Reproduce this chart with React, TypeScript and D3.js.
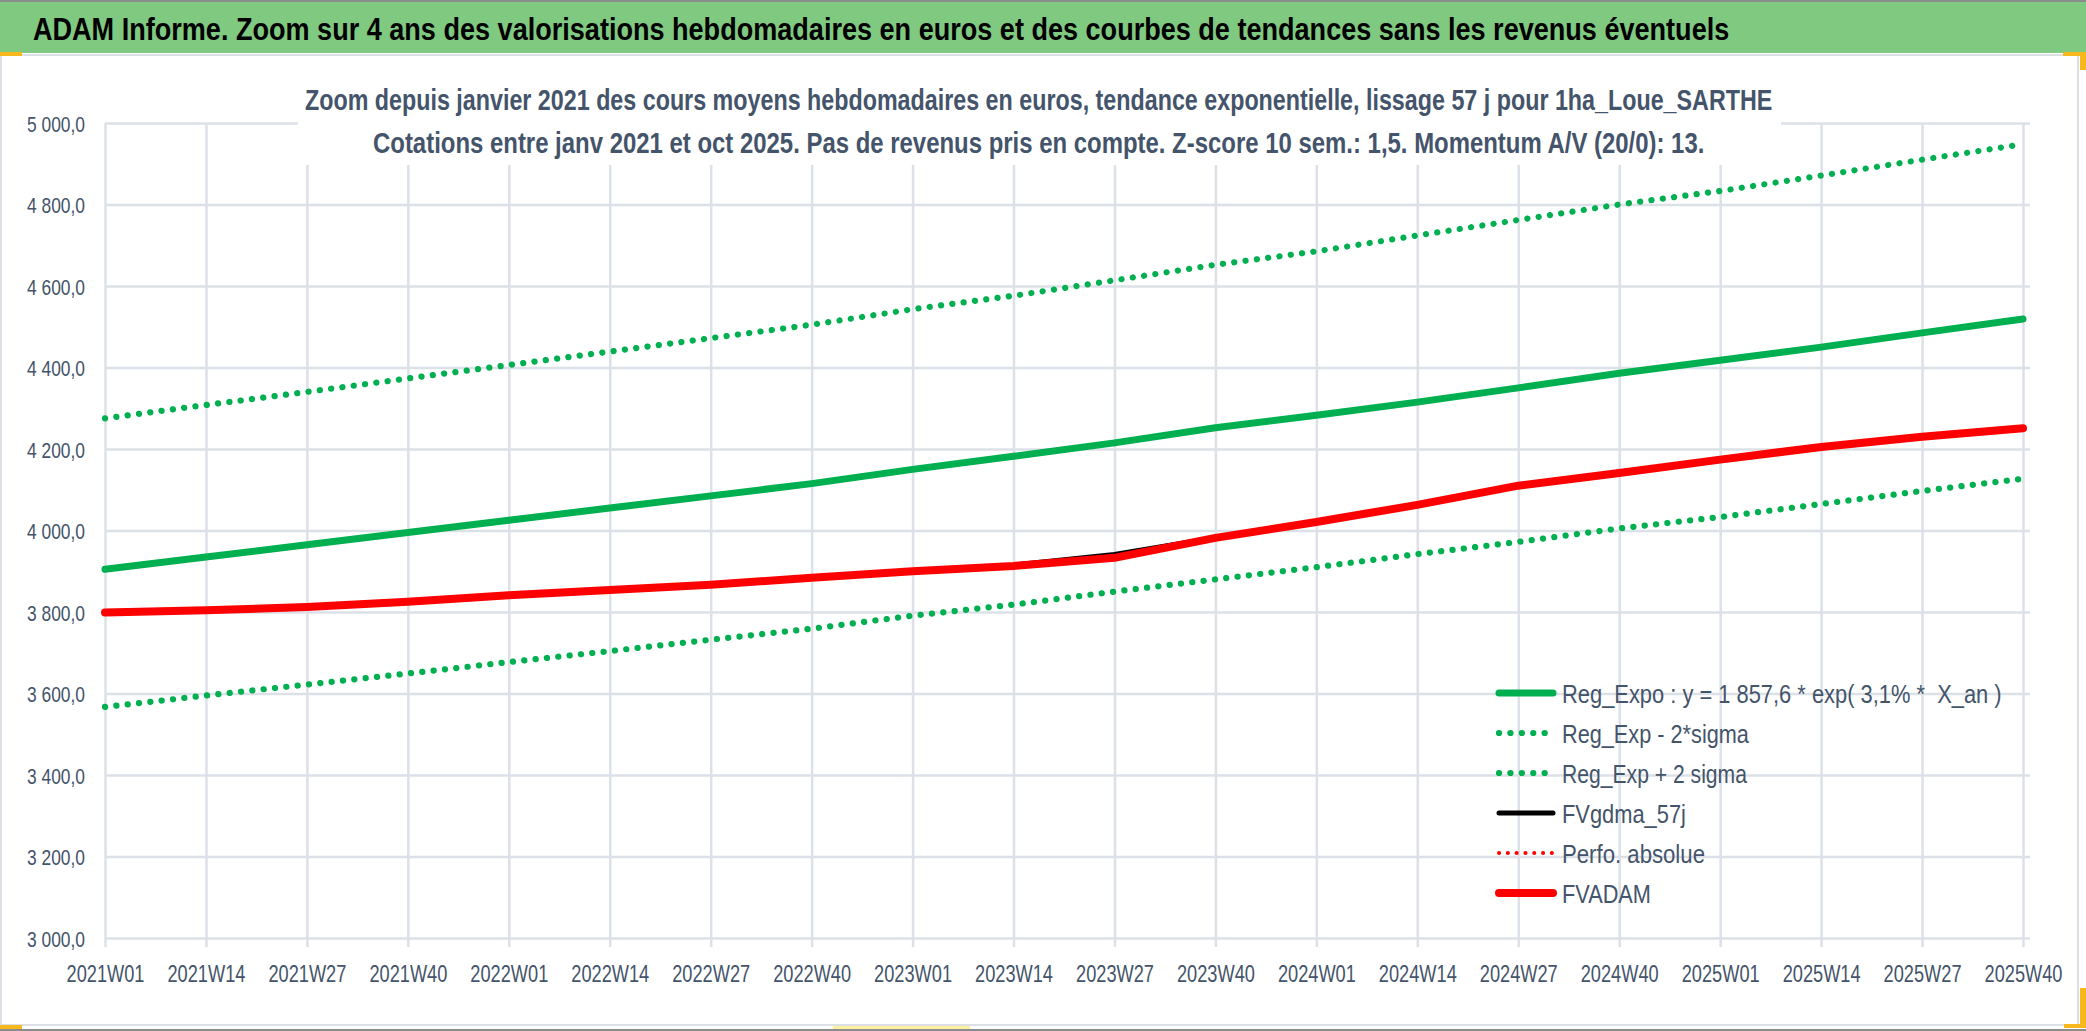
import * as d3 from 'd3'
import { useEffect, useRef } from 'react'

// weekly categories shown on the axis (one every 13 weeks)
const weeks = [
    '2021W01', '2021W14', '2021W27', '2021W40',
    '2022W01', '2022W14', '2022W27', '2022W40',
    '2023W01', '2023W14', '2023W27', '2023W40',
    '2024W01', '2024W14', '2024W27', '2024W40',
    '2025W01', '2025W14', '2025W27', '2025W40',
]

// values, euros
const regExpo = [3905, 3935, 3965, 3995, 4025, 4055, 4085, 4115, 4150, 4182, 4215, 4252, 4283, 4315, 4350, 4386, 4418, 4450, 4485, 4519]
const regMinus = [3567, 3595, 3622, 3649, 3677, 3704, 3732, 3759, 3791, 3818, 3850, 3880, 3910, 3942, 3972, 4005, 4033, 4065, 4097, 4127]
const regPlus = [4275, 4308, 4340, 4373, 4406, 4439, 4472, 4505, 4543, 4576, 4614, 4652, 4685, 4724, 4762, 4800, 4833, 4871, 4910, 4948]
const fvgdma = [3799, 3804, 3812, 3825, 3841, 3854, 3867, 3884, 3900, 3915, 3941, 3982, 4021, 4063, 4110, 4141, 4174, 4205, 4230, 4251]
const fvadam = [3799, 3804, 3812, 3825, 3841, 3854, 3867, 3884, 3900, 3913, 3933, 3982, 4021, 4063, 4110, 4141, 4174, 4205, 4230, 4251]
const perfo: number[] = []

const yTicks = [3000, 3200, 3400, 3600, 3800, 4000, 4200, 4400, 4600, 4800, 5000]

const title = 'ADAM Informe. Zoom sur 4 ans des valorisations hebdomadaires en euros et des courbes de tendances sans les revenus éventuels'
const subtitle1 = 'Zoom depuis janvier 2021 des cours moyens hebdomadaires en euros, tendance exponentielle, lissage 57 j pour 1ha_Loue_SARTHE'
const subtitle2 = 'Cotations entre janv 2021 et oct 2025. Pas de revenus pris en compte. Z-score 10 sem.: 1,5. Momentum A/V (20/0): 13.'

const W = 2086
const H = 1031
const FONT = "'Liberation Sans Narrow', 'Liberation Sans', Arial, sans-serif"
const TEXT = '#44546A'
const GRID = '#DCE0E7'

// squeeze a text horizontally so it takes `width` px (the Calibri look of the original)
function squeeze(node: SVGTextElement, x: number, y: number, width: number) {
    node.setAttribute('x', '0')
    node.setAttribute('y', '0')
    const len = node.getComputedTextLength() || width
    const k = width / len
    node.setAttribute('transform', `translate(${x},${y}) scale(${k},1)`)
}

export default function App() {
    const svgRef = useRef<SVGSVGElement>(null)

    useEffect(() => {
        const svg = d3.select(svgRef.current)
        svg.selectAll('*').remove()

        const left = 105, right = 2023, top = 123, bottom = 938

        const x = d3.scalePoint<string>().domain(weeks).range([left, right])
        const y = d3.scaleLinear().domain([3000, 5000]).range([bottom, top])
        const fmt = d3.formatLocale({ decimal: ',', thousands: ' ', grouping: [3], currency: ['', ''] }).format(',.1f')

        svg.append('rect').attr('width', W).attr('height', H).attr('fill', '#fff')

        // title band
        svg.append('rect').attr('x', 0).attr('y', 0).attr('width', W).attr('height', 53).attr('fill', '#80C980')
        svg.append('line').attr('x1', 0).attr('x2', W).attr('y1', 1).attr('y2', 1).attr('stroke', '#8C8C8C').attr('stroke-width', 2)
        svg.append('text')
            .style('font-family', FONT).style('font-size', '32px').style('font-weight', 'bold')
            .attr('fill', '#000')
            .text(title)
            .each(function () { squeeze(this as SVGTextElement, 33, 40, 1697) })

        // chart area
        svg.append('rect')
            .attr('x', 1).attr('y', 55).attr('width', 2077).attr('height', 970)
            .attr('fill', '#fff').attr('stroke', '#DCDFE4').attr('stroke-width', 2)
        svg.append('line').attr('x1', 0).attr('x2', W).attr('y1', 1030).attr('y2', 1030).attr('stroke', '#8C8C8C').attr('stroke-width', 2)

        // excel selection handles
        const handles = [
            [0, 52, 22, 4], [2063, 52, 23, 4], [2080, 52, 6, 18],
            [0, 1025, 22, 4], [2080, 988, 6, 40], [2064, 1024, 22, 4],
        ]
        svg.append('g').selectAll('rect').data(handles).enter().append('rect')
            .attr('x', d => d[0]).attr('y', d => d[1]).attr('width', d => d[2]).attr('height', d => d[3])
            .attr('fill', '#F6B81A')
        svg.append('rect').attr('x', 833).attr('y', 1026).attr('width', 137).attr('height', 3).attr('fill', '#FBEFA0')

        // horizontal gridlines + y labels
        const yAxis = d3.axisLeft(y).tickValues(yTicks).tickFormat(d => fmt(d as number))
            .tickSizeInner(-(2030 - left)).tickSizeOuter(0).tickPadding(20)
        const gy = svg.append('g').attr('transform', `translate(${left},0)`).call(yAxis)
        gy.select('.domain').remove()
        gy.selectAll('line').attr('stroke', GRID).attr('stroke-width', 2.5)
        gy.selectAll<SVGTextElement, unknown>('text')
            .attr('dy', null)
            .attr('text-anchor', 'end')
            .style('font-family', FONT).style('font-size', '22px').attr('fill', TEXT)
            .each(function () { squeeze(this, -20, 8, 58) })

        // vertical gridlines + x labels
        const xAxis = d3.axisBottom(x).tickSizeInner(-(947 - top)).tickSizeOuter(0)
        const gx = svg.append('g').attr('transform', 'translate(0,947)').call(xAxis)
        gx.select('.domain').remove()
        gx.selectAll('line').attr('stroke', GRID).attr('stroke-width', 2.5)
        gx.selectAll<SVGTextElement, unknown>('text')
            .attr('dy', null)
            .style('font-family', FONT).style('font-size', '23px').attr('fill', TEXT)
            .each(function () { squeeze(this, 0, 35, 78) })

        // subtitle box over the grid
        svg.append('rect').attr('x', 298).attr('y', 57).attr('width', 1483).attr('height', 108).attr('fill', '#fff')
        const subs = [[subtitle1, 305, 110, 1468], [subtitle2, 373, 153, 1332]] as const
        subs.forEach(([t, sx, sy, len]) => {
            svg.append('text')
                .style('font-family', FONT).style('font-size', '30px').style('font-weight', 'bold')
                .attr('fill', TEXT)
                .text(t)
                .each(function () { squeeze(this as SVGTextElement, sx, sy, len) })
        })

        const series = [
            { name: 'Reg_Expo : y = 1 857,6 * exp( 3,1% *  X_an )', values: regExpo, color: '#00B050', width: 7, dash: '', lw: 440 },
            { name: 'Reg_Exp - 2*sigma', values: regMinus, color: '#00B050', width: 6.2, dash: '0.1 11.3', lw: 187 },
            { name: 'Reg_Exp + 2 sigma', values: regPlus, color: '#00B050', width: 6.2, dash: '0.1 11.3', lw: 185 },
            { name: 'FVgdma_57j', values: fvgdma, color: '#000000', width: 5, dash: '', lw: 124 },
            { name: 'Perfo. absolue', values: perfo, color: '#FF0000', width: 4, dash: '0.1 8.7', lw: 143 },
            { name: 'FVADAM', values: fvadam, color: '#FF0000', width: 8, dash: '', lw: 89 },
        ]

        const line = d3.line<number>()
            .x((_, i) => x(weeks[i]) as number)
            .y(d => y(d))

        series.forEach(s => {
            if (!s.values.length) return
            svg.append('path')
                .attr('d', line(s.values))
                .attr('fill', 'none')
                .attr('stroke', s.color)
                .attr('stroke-width', s.width)
                .attr('stroke-linecap', 'round')
                .attr('stroke-linejoin', 'round')
                .attr('stroke-dasharray', s.dash || null)
        })

        // legend
        const lg = svg.append('g')
        series.forEach((s, i) => {
            const ry = 693 + i * 40
            lg.append('line')
                .attr('x1', 1499).attr('x2', 1553).attr('y1', ry).attr('y2', ry)
                .attr('stroke', s.color).attr('stroke-width', s.width)
                .attr('stroke-linecap', 'round')
                .attr('stroke-dasharray', s.dash || null)
            lg.append('text')
                .style('font-family', FONT).style('font-size', '26px').style('white-space', 'pre')
                .attr('fill', TEXT)
                .text(s.name)
                .each(function () { squeeze(this as SVGTextElement, 1562, ry + 9.5, s.lw) })
        })
    }, [])

    return (
        <svg ref={svgRef} width={W} height={H} style={{ position: 'absolute', left: 0, top: 0 }} />
    )
}
